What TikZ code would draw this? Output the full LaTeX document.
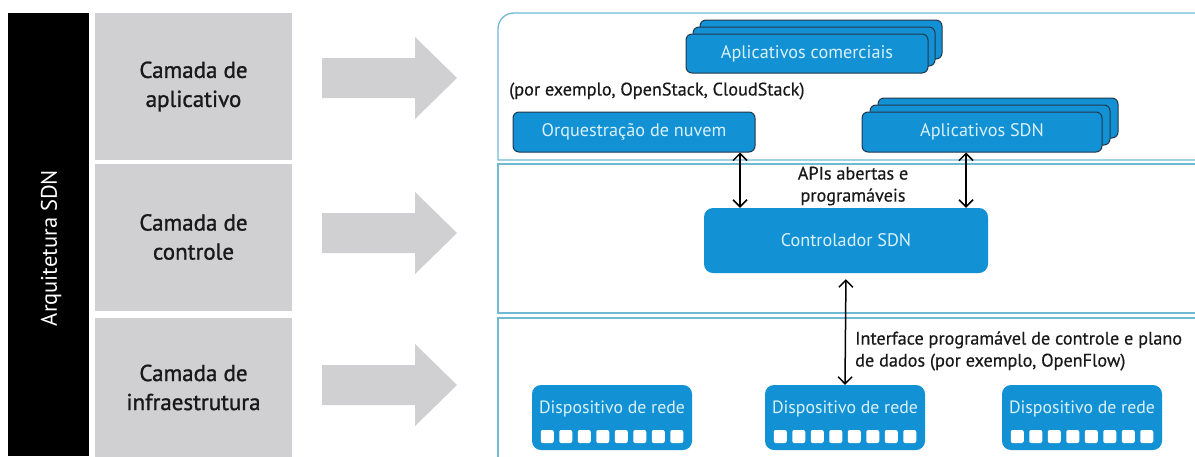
\documentclass[tikz,border=0pt]{standalone}
\usepackage{fontspec}
\setmainfont{PT Sans}
\newfontfamily\medfont{PT Sans}[FakeBold=1.2]
\newfontfamily\semifont{PT Sans}[FakeBold=0.5]
\usetikzlibrary{arrows.meta,calc}
\definecolor{sdnblue}{RGB}{18,146,212}
\definecolor{sdnedge}{RGB}{35,55,75}
\definecolor{sdntext}{RGB}{218,240,251}
\definecolor{panelline}{RGB}{112,186,212}
\definecolor{grayfill}{RGB}{208,208,210}
\definecolor{darktext}{RGB}{25,25,25}
\begin{document}
\begin{tikzpicture}[x=1pt,y=-1pt,
  font=\fontsize{18.2}{22}\selectfont,
  bluebox/.style={draw=sdnedge, line width=1pt, fill=sdnblue, rounded corners=6pt, text=sdntext, inner sep=0pt},
  plainblue/.style={fill=sdnblue, rounded corners=9pt, text=sdntext, inner sep=0pt},
  devtext/.style={text=sdntext, inner sep=0pt, font=\fontsize{17.8}{21}\selectfont},
  port/.style={fill=white, rounded corners=2pt, minimum size=13pt, inner sep=0pt},
  layerbox/.style={fill=grayfill, inner sep=0pt, minimum width=197pt, align=center, text=darktext, font=\fontsize{23}{29}\medfont},
  panel/.style={draw=panelline, line width=1.3pt},
  biarr/.style={{Straight Barb[length=7pt,width=14pt,line width=1.5pt]}-{Straight Barb[length=7pt,width=14pt,line width=1.5pt]}, line width=1.5pt, black},
  note/.style={text=darktext, inner sep=0pt, align=center, font=\fontsize{18.2}{22}\semifont}
]
\useasboundingbox (0,0) rectangle (1195,456);
\fill[white] (0,0) rectangle (1195,456);

% black bar
\node[fill=black, minimum width=81pt, minimum height=443pt, inner sep=0pt] (bar) at (48.5,234.5) {};
\node[rotate=90, text=white, font=\fontsize{22.5}{26}\selectfont, inner sep=0pt] (archlabel) at (51,248) {Arquitetura SDN};

% gray layer boxes
\node[layerbox, minimum height=147pt] (L1) at (193.5,86.5) {Camada de\\aplicativo};
\node[layerbox, minimum height=147pt] (L2) at (193.5,237) {Camada de\\controle};
\node[layerbox, minimum height=139pt] (L3) at (193.5,387.5) {Camada de\\infraestrutura};

% gray arrows
\foreach \c in {78,233,385}{
  \fill[grayfill] (322,\c-20) -- (415,\c-20) -- (415,\c-41) -- (457,\c) -- (415,\c+41) -- (415,\c+20) -- (322,\c+20) -- cycle;
}

% panels
\draw[panel] (1200,13) -- (514,13) .. controls (505,13) and (498,20) .. (498,29) -- (498,160) -- (1200,160);
\draw[panel] (1200,164) -- (498,164) -- (498,313) -- (1200,313);
\draw[panel] (1200,318) -- (498,318) -- (498,460);

% commercial apps (stack)
\node[bluebox, minimum width=242pt, minimum height=39pt] (com3) at (821,39.5) {};
\node[bluebox, minimum width=242pt, minimum height=39pt] (com2) at (814,46.5) {};
\node[bluebox, minimum width=242pt, minimum height=39pt] (com) at (807,53.5) {Aplicativos comerciais};

\node[note, anchor=west] (eg) at (509,91) {(por exemplo, OpenStack, CloudStack)};

\node[bluebox, minimum width=242pt, minimum height=40pt] (orq) at (634,132) {Orquestração de nuvem};

% SDN apps (stack)
\node[bluebox, minimum width=240pt, minimum height=40pt] (sdn3) at (998,118) {};
\node[bluebox, minimum width=240pt, minimum height=40pt] (sdn2) at (990,125) {};
\node[bluebox, minimum width=240pt, minimum height=40pt] (sdn) at (982,132) {Aplicativos SDN};

% controller
\node[plainblue, minimum width=284pt, minimum height=65pt] (ctrl) at (846,240.5) {Controlador SDN};

\node[note] (apis) at (853,186) {APIs abertas e\\programáveis};

% devices
\foreach \n/\x in {dev1/612, dev2/845, dev3/1082}{
  \node[plainblue, minimum width=160pt, minimum height=65pt] (\n) at (\x,417.5) {};
  \node[devtext] (\n t) at ($(\n.center)+(0,-8.5)$) {Dispositivo de rede};
  \foreach \i in {0,...,7}{
    \node[port] (\n p\i) at ($(\n.center)+(-64.75+18.5*\i,19)$) {};
  }
}

\node[note, anchor=west, align=left] (iface) at (855,351) {Interface programável de controle e plano\\de dados (por exemplo, OpenFlow)};

% connectors
\coordinate (xa) at (740,0);
\coordinate (xb) at (966,0);
\draw[biarr] (xa |- orq.south) -- (xa |- ctrl.north);
\draw[biarr] (xb |- sdn.south) -- (xb |- ctrl.north);
\draw[biarr, shorten <=6pt] (ctrl.south) -- (dev2.north);
\end{tikzpicture}
\end{document}
